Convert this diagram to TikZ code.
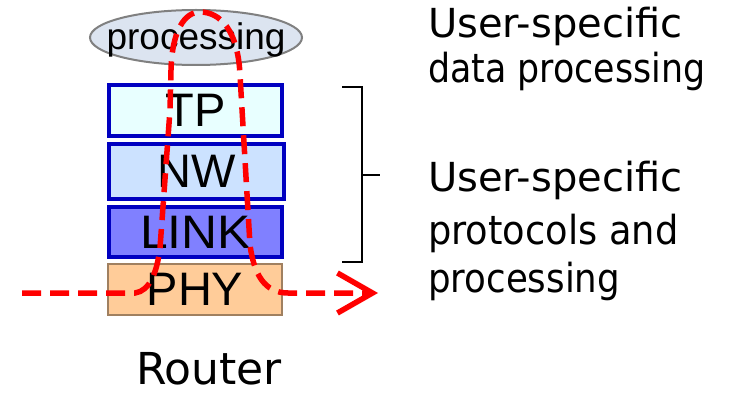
\documentclass[tikz,border=0pt]{standalone}
\usepackage{graphicx}
\usepackage{fontspec}
\setmainfont{DejaVu Sans}
\newfontfamily\boxfont{Liberation Sans}
\usetikzlibrary{shapes.geometric,arrows.meta}
\definecolor{layerblue}{HTML}{0000C0}
\definecolor{tpfill}{HTML}{E8FFFF}
\definecolor{nwfill}{HTML}{CCE2FF}
\definecolor{linkfill}{HTML}{8080FF}
\definecolor{phyfill}{HTML}{FFCC99}
\definecolor{phyedge}{HTML}{A08060}
\definecolor{procfill}{HTML}{DCE4F0}
\definecolor{flowred}{HTML}{FF0000}
\tikzset{
  layer/.style={draw=layerblue, line width=4pt, rectangle, inner sep=0pt,
    font=\boxfont\fontsize{47}{50}\selectfont},
  phylayer/.style={draw=phyedge, line width=2pt, fill=phyfill, rectangle, inner sep=0pt,
    font=\boxfont\fontsize{47}{50}\selectfont},
  procnode/.style={draw=gray, line width=2pt, fill=procfill, ellipse, inner sep=0pt,
    minimum width=212pt, minimum height=55pt},
  note/.style={anchor=base west, inner sep=0pt, font=\fontsize{40}{44}\selectfont},
  flow/.style={draw=flowred, line width=5.5pt, dash pattern=on 19pt off 9pt},
  bracket/.style={draw=black, line width=2.5pt}
}
% horizontal squeeze of a text line
\newcommand{\hsq}[2]{\scalebox{#1}[1]{#2}}
\begin{document}
\begin{tikzpicture}[x=1pt, y=-1pt]
  \useasboundingbox (0,0) rectangle (735,395);

  % protocol stack
  \node[procnode] (proc) at (196,37.5) {};
  \node[anchor=base, inner sep=0pt, font=\boxfont\fontsize{37}{40}\selectfont] (proclabel) at (196,50) {processing};
  \node[layer, fill=tpfill, minimum width=173pt, minimum height=51pt] (tp) at (195.5,110.5) {TP};
  \node[layer, fill=nwfill, minimum width=175pt, minimum height=55pt] (nw) at (196.5,171.5) {NW};
  \node[layer, fill=linkfill, minimum width=173pt, minimum height=50pt] (link) at (195.5,232) {\hsq{1.06}{LINK}};
  \node[phylayer, minimum width=174pt, minimum height=51pt] (phy) at (195,289.5) {PHY};

  % caption
  \node[anchor=base west, inner sep=0pt, font=\fontsize{44}{48}\selectfont] (router) at (136,384) {Router};

  % brace around the protocol layers
  \coordinate (brtop) at (342,87);
  \coordinate (brbot) at (342,262);
  \coordinate (brmid) at (380,175);
  \draw[bracket] (brtop) -- (362,87) -- (362,262) -- (brbot);
  \draw[bracket] (362,175) -- (brmid);

  % descriptions
  \node[note] (d1) at (428,38) {User-specific};
  \node[note] (d2) at (428,83) {\hsq{0.87}{data processing}};
  \node[note] (p1) at (428,192) {User-specific};
  \node[note] (p2) at (428,244) {\hsq{0.92}{protocols and}};
  \node[note] (p3) at (428,292) {\hsq{0.89}{processing}};

  % data flow through the router
  \coordinate (flowin) at (22,293);
  \coordinate (flowout) at (378,293);
  \draw[flow, -{Straight Barb[length=35pt, width=40pt]}]
    (flowin) -- (135,293)
    .. controls (150,291) and (157,272) .. (160,248)
    -- (170,110) -- (171,70)
    .. controls (172,30) and (185,12) .. (200,12)
    .. controls (220,12) and (238,30) .. (240,75)
    -- (250,245)
    .. controls (254,275) and (265,293) .. (288,293)
    -- (flowout);
\end{tikzpicture}
\end{document}
